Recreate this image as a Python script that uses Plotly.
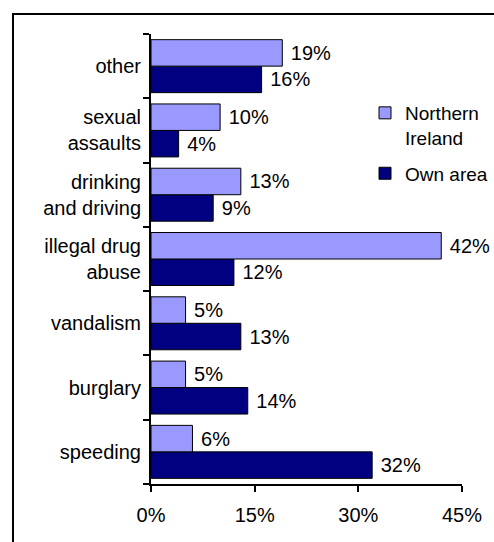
import plotly.graph_objects as go

categories = ["speeding", "burglary", "vandalism", "illegal drug<br>abuse",
              "drinking<br>and driving", "sexual<br>assaults", "other"]
northern_ireland = [6, 5, 5, 42, 13, 10, 19]
own_area = [32, 14, 13, 12, 9, 4, 16]
x_ticks = [0, 15, 30, 45]
x_tick_labels = ["0%", "15%", "30%", "45%"]

FONT = "Liberation Sans, Arial, sans-serif"
FS = 20

fig = go.Figure()
fig.add_trace(go.Bar(
    y=categories, x=own_area, orientation="h", name="Own area",
    marker=dict(color="#000080", line=dict(color="black", width=1)),
    text=["\u00a0" + f"{v}%" for v in own_area], textposition="outside",
    textfont=dict(family=FONT, size=FS, color="black"),
    cliponaxis=False, constraintext="none", legendrank=2, legendgroup="b",
))
fig.add_trace(go.Bar(
    y=categories, x=northern_ireland, orientation="h", name="Northern<br>Ireland",
    marker=dict(color="#9999FF", line=dict(color="black", width=1)),
    text=["\u00a0" + f"{v}%" for v in northern_ireland], textposition="outside",
    textfont=dict(family=FONT, size=FS, color="black"),
    cliponaxis=False, constraintext="none", legendrank=1, legendgroup="a",
))

L, T, W, H = 151, 34, 311, 450
fig.update_layout(
    width=494, height=542,
    margin=dict(l=L, r=494 - L - W, t=T, b=542 - T - H, pad=0, autoexpand=False),
    paper_bgcolor="white", plot_bgcolor="white",
    barmode="group", bargap=0.176, bargroupgap=0,
    font=dict(family=FONT, size=FS, color="black"),
    showlegend=True,
    legend=dict(x=(365 - L) / W, xanchor="left", y=1 - (94 - T) / H, yanchor="top",
                valign="top", font=dict(size=19), bgcolor="rgba(0,0,0,0)",
                traceorder="grouped", tracegroupgap=8, itemwidth=30),
    xaxis=dict(range=[0, 45], tickvals=x_ticks, ticktext=x_tick_labels,
               showgrid=False, zeroline=False, showline=True, linecolor="black",
               linewidth=2, ticks="outside", ticklen=6, tickwidth=2, tickcolor="black",
               ticklabelstandoff=6, fixedrange=True),
    yaxis=dict(showgrid=False, zeroline=False, showline=True, linecolor="black",
               linewidth=2, ticks="outside", ticklen=6, tickwidth=2, tickcolor="black",
               tickson="boundaries", ticklabelstandoff=4, fixedrange=True),
    shapes=[dict(type="rect", xref="paper", yref="paper",
                 x0=(13 - L) / W, x1=1.3, y0=-0.3, y1=1 + (T - 14) / H,
                 line=dict(color="black", width=2), fillcolor="rgba(0,0,0,0)")],
)
fig.write_html("out.html", config={"displayModeBar": False},
               post_script="document.body.style.margin='0';document.body.style.overflow='hidden';")
